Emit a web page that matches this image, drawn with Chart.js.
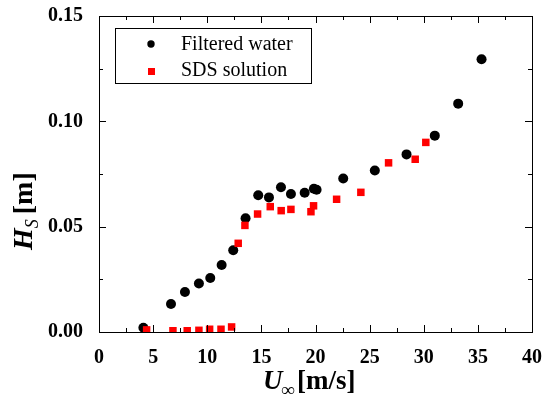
<!DOCTYPE html>
<html lang="en">

<head>
  <meta charset="UTF-8" />
  <title>Hs vs U</title>
  <script src="https://cdn.jsdelivr.net/npm/chart.js"></script>
  <style>
    body {
      margin: 0;
      background: #fff;
    }

    .chart-wrapper {
      width: 544px;
      height: 398px;
    }
  </style>
</head>

<body>
  <div class="chart-wrapper"><canvas id="chart"></canvas></div>

  <script>
    // values
    const waterU = [4.1, 6.65, 7.94, 9.23, 10.28, 11.33, 12.4, 13.54, 14.71, 15.7, 16.81, 17.73, 19.0, 19.85, 20.1, 22.56, 25.48, 28.41, 31.02, 33.18, 35.34];
    const waterH = [0.002, 0.0133, 0.019, 0.023, 0.0256, 0.0318, 0.0388, 0.054, 0.0649, 0.0639, 0.0687, 0.0655, 0.0661, 0.068, 0.0675, 0.0729, 0.0767, 0.0843, 0.0932, 0.1084, 0.1295];
    const sdsU = [4.4, 6.83, 8.15, 9.23, 10.22, 11.27, 12.25, 12.86, 13.48, 14.65, 15.82, 16.83, 17.73, 19.58, 19.82, 21.95, 24.19, 26.75, 29.21, 30.19];
    const sdsH = [0.001, 0.0006, 0.0006, 0.0008, 0.0013, 0.0013, 0.0024, 0.0421, 0.0506, 0.056, 0.0595, 0.0576, 0.0582, 0.0571, 0.0599, 0.063, 0.0663, 0.0803, 0.082, 0.09];
    const seriesNames = ["Filtered water", "SDS solution"];
    const xTicks = [0, 5, 10, 15, 20, 25, 30, 35, 40];
    const yTicks = [0, 0.05, 0.1, 0.15];

    const serif = "'Liberation Serif', 'Times New Roman', serif";

    // frame, inward ticks, axis titles and legend box
    const decorations = {
      id: "decorations",
      afterDraw(chart) {
        const ctx = chart.ctx;
        const { left, right, top, bottom } = chart.chartArea;
        const xs = chart.scales.x;
        const ys = chart.scales.y;
        ctx.save();
        ctx.strokeStyle = "#000";
        ctx.lineWidth = 1;
        ctx.strokeRect(left + 0.5, top + 0.5, right - left, bottom - top);

        ctx.beginPath();
        for (let v = 0; v <= 40; v += 2.5) {
          const px = Math.round(xs.getPixelForValue(v)) + 0.5;
          const len = v % 5 === 0 ? 7 : 4;
          ctx.moveTo(px, bottom);
          ctx.lineTo(px, bottom - len);
          ctx.moveTo(px, top);
          ctx.lineTo(px, top + len);
        }
        for (let i = 0; i <= 6; i++) {
          const v = i * 0.025;
          const py = Math.round(ys.getPixelForValue(v)) + 0.5;
          const len = i % 2 === 0 ? 7 : 4;
          ctx.moveTo(left, py);
          ctx.lineTo(left + len, py);
          ctx.moveTo(right, py);
          ctx.lineTo(right - len, py);
        }
        ctx.stroke();

        // x title: U∞ [m/s]
        ctx.fillStyle = "#000";
        ctx.textBaseline = "alphabetic";
        ctx.textAlign = "left";
        let x = 263;
        ctx.font = "italic bold 27px " + serif;
        ctx.fillText("U", x, 389);
        x += ctx.measureText("U").width;
        ctx.font = "bold 19px " + serif;
        ctx.fillText("∞", x - 1, 396);
        x += ctx.measureText("∞").width + 1;
        ctx.font = "bold 27px " + serif;
        ctx.fillText("[m/s]", x, 389);

        // y title: H_S [m], rotated
        ctx.translate(32, 250);
        ctx.rotate(-Math.PI / 2);
        let y = 0;
        ctx.font = "italic bold 28px " + serif;
        ctx.fillText("H", y, 0);
        y += ctx.measureText("H").width;
        ctx.font = "italic 18px " + serif;
        ctx.fillText("S", y, 6);
        y += ctx.measureText("S").width + 5;
        ctx.font = "bold 28px " + serif;
        ctx.fillText("[m]", y, 0);
        ctx.restore();

        // legend
        ctx.save();
        ctx.strokeStyle = "#000";
        ctx.lineWidth = 1;
        ctx.strokeRect(115.5, 28.5, 196, 55);
        ctx.font = "20px " + serif;
        ctx.fillStyle = "#000";
        ctx.textBaseline = "middle";
        ctx.fillText(seriesNames[0], 181, 45);
        ctx.fillText(seriesNames[1], 181, 71);
        ctx.beginPath();
        ctx.arc(151, 44, 3.7, 0, Math.PI * 2);
        ctx.fill();
        ctx.fillStyle = "#ff0000";
        ctx.fillRect(148, 68, 7, 7);
        ctx.restore();
      },
    };

    new Chart(document.getElementById("chart"), {
      type: "scatter",
      data: {
        datasets: [
          {
            label: seriesNames[1],
            data: sdsU.map((u, i) => ({ x: u, y: sdsH[i] })),
            pointStyle: "rect",
            pointRadius: 5.3,
            pointHoverRadius: 5.3,
            backgroundColor: "#ff0000",
            borderWidth: 0,
            order: 0,
          },
          {
            label: seriesNames[0],
            data: waterU.map((u, i) => ({ x: u, y: waterH[i] })),
            pointStyle: "circle",
            pointRadius: 5,
            pointHoverRadius: 5,
            backgroundColor: "#000",
            borderWidth: 0,
            order: 1,
          },
        ],
      },
      options: {
        animation: false,
        responsive: true,
        maintainAspectRatio: false,
        layout: { padding: { left: 0, top: 16, right: 12, bottom: 0 } },
        plugins: {
          legend: { display: false },
          tooltip: { enabled: false },
        },
        scales: {
          x: {
            type: "linear",
            min: 0,
            max: 40,
            afterBuildTicks: (s) => { s.ticks = xTicks.map((v) => ({ value: v })); },
            afterFit: (s) => {
              s.height = 66;
              s.paddingLeft = 0;
              s.paddingRight = 0;
            },
            grid: { display: false },
            border: { display: false },
            ticks: {
              padding: 6,
              color: "#000",
              maxRotation: 0,
              font: { family: serif, size: 20, weight: "bold" },
            },
          },
          y: {
            type: "linear",
            min: 0,
            max: 0.15,
            afterBuildTicks: (s) => { s.ticks = yTicks.map((v) => ({ value: v })); },
            afterFit: (s) => {
              s.width = 99;
              s.paddingTop = 0;
              s.paddingBottom = 0;
            },
            grid: { display: false },
            border: { display: false },
            ticks: {
              padding: 8,
              color: "#000",
              callback: (v) => v.toFixed(2),
              font: { family: serif, size: 20, weight: "bold" },
            },
          },
        },
      },
      plugins: [decorations],
    });
  </script>
</body>

</html>
